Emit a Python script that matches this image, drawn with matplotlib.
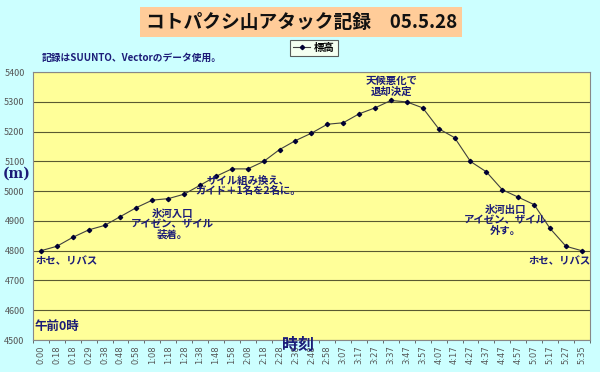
import numpy as np
import matplotlib
matplotlib.use('Agg')
import matplotlib.pyplot as plt

plt.rcParams['font.family'] = ['Noto Sans CJK JP', 'DejaVu Sans']

# time labels (x axis) and altitude (m)
times = ['0:00', '0:18', '0:18', '0:29', '0:38', '0:48', '0:58', '1:08', '1:18',
         '1:28', '1:38', '1:48', '1:58', '2:08', '2:18', '2:28', '2:38', '2:48',
         '2:58', '3:07', '3:17', '3:27', '3:37', '3:47', '3:57', '4:07', '4:17',
         '4:27', '4:37', '4:47', '4:57', '5:07', '5:17', '5:27', '5:35']
altitude = [4800, 4815, 4845, 4870, 4885, 4915, 4945, 4970, 4975, 4990,
            5020, 5050, 5075, 5075, 5100, 5140, 5170, 5195, 5225, 5230,
            5260, 5280, 5305, 5300, 5280, 5210, 5180, 5100, 5065, 5005,
            4980, 4955, 4875, 4815, 4800]

navy = '#1c1c78'
bg = '#ccffff'

fig = plt.figure(figsize=(6, 3.72), dpi=100, facecolor=bg)
ax = fig.add_axes([0.055, 0.086, 0.928, 0.72])
ax.set_facecolor('#ffff99')

x = np.arange(len(times))
ax.plot(x, altitude, color='#404040', lw=0.8, marker='D', ms=2.2,
        mfc='#000033', mec='#000033', label='標高', zorder=3)

ax.set_xlim(-0.5, len(times) - 0.5)
ax.set_ylim(4500, 5400)
ax.set_yticks(range(4500, 5401, 100))
ax.grid(axis='y', color='#5a5a30', lw=0.8)
ax.set_axisbelow(True)
ax.set_xticks(x)
ax.set_xticklabels(times, rotation=90, fontsize=6, color='#555555',
                   family=['DejaVu Sans'])
ax.set_xticks(np.arange(-0.5, len(times), 1), minor=True)
ax.tick_params(axis='x', which='major', length=0, pad=4)
ax.tick_params(axis='x', which='minor', length=2, color='#555555')
ax.tick_params(axis='y', length=0, labelsize=6.5, labelcolor='#555555', pad=6)
for sp in ax.spines.values():
    sp.set_color('#888888')
    sp.set_linewidth(0.8)

# title
fig.text(0.502, 0.94, 'コトパクシ山アタック記録\u300005.5.28', ha='center', va='center',
         fontsize=13.5, fontweight='bold', color='#111111',
         bbox=dict(boxstyle='square,pad=0.3', fc='#ffcc99', ec='none'))
fig.text(0.07, 0.845, '記録はSUUNTO、Vectorのデータ使用。', fontsize=7,
         fontweight='bold', color=navy, ha='left', va='center')

leg = ax.legend(loc='center', bbox_to_anchor=(0.505, 1.09),
                frameon=True, fancybox=False, handlelength=1.6,
                borderpad=0.3, handletextpad=0.4, prop={'weight': 'bold', 'size': 7.5})
leg.get_frame().set_facecolor('#ffffee')
leg.get_frame().set_edgecolor('#333333')
leg.get_frame().set_linewidth(0.8)

fig.text(0.027, 0.532, '(m)', fontsize=10, fontweight='bold', color=navy,
         family=['DejaVu Serif'], ha='center', va='center')
fig.text(0.058, 0.122, '午前0時', fontsize=9, fontweight='bold', color=navy,
         ha='left', va='center')
fig.text(0.497, 0.074, '時刻', fontsize=11.5, fontweight='bold', color=navy,
         ha='center', va='center')

# annotations
notes = [(0.06, 0.298, 'ホセ、リバス', 'left'),
         (0.287, 0.398, '氷河入口\nアイゼン、ザイル\n装着。', 'center'),
         (0.413, 0.5, 'ザイル組み換え、\nガイド＋1名を2名に。', 'center'),
         (0.653, 0.768, '天候悪化で\n退却決定', 'center'),
         (0.842, 0.408, '氷河出口\nアイゼン、ザイル\n外す。', 'center'),
         (0.985, 0.298, 'ホセ、リバス', 'right')]
for nx, ny, txt, ha in notes:
    fig.text(nx, ny, txt, fontsize=7.5, fontweight='bold', color=navy,
             ha=ha, va='center', linespacing=1.05, multialignment='center')

fig.savefig('out.png', dpi=100, facecolor=bg)
